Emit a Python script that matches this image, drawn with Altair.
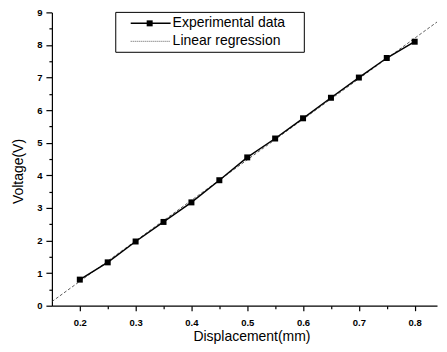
import altair as alt
import pandas as pd

displacement = [0.20, 0.25, 0.30, 0.35, 0.40, 0.45, 0.50, 0.55, 0.60, 0.65, 0.70, 0.75, 0.80]
voltage = [0.80, 1.33, 1.97, 2.57, 3.17, 3.85, 4.55, 5.13, 5.75, 6.38, 7.00, 7.60, 8.10]
x_ticks = [0.20, 0.25, 0.30, 0.35, 0.40, 0.45, 0.50, 0.55, 0.60, 0.65, 0.70, 0.75, 0.80]
y_ticks = [0, 0.5, 1, 1.5, 2, 2.5, 3, 3.5, 4, 4.5, 5, 5.5, 6, 6.5, 7, 7.5, 8, 8.5, 9]
legend_labels = ["Experimental data", "Linear regression"]

df = pd.DataFrame({"d": displacement, "v": voltage})
one = pd.DataFrame({"k": [0]})

FONT = "Liberation Sans"
major_x = "abs(datum.value*10 - round(datum.value*10)) < 0.001"
major_y = "abs(datum.value - round(datum.value)) < 0.001"

xaxis = alt.Axis(
    values=x_ticks,
    title="Displacement(mm)",
    labelExpr=f"{major_x} ? format(datum.value, '.1f') : ''",
    labelOverlap=False,
    tickSize={"condition": {"test": major_x, "value": 5}, "value": 3},
    labelPadding=7,
    labelFont=FONT, labelFontSize=9.5, labelFontWeight="bold",
    titleFont=FONT, titleFontSize=14, titleFontWeight="normal",
    titleX=200, titleY=35, titleBaseline="alphabetic",
    grid=False,
)
yaxis = alt.Axis(
    values=y_ticks,
    title="Voltage(V)",
    labelExpr=f"{major_y} ? format(datum.value, 'd') : ''",
    labelOverlap=False,
    tickSize={"condition": {"test": major_y, "value": 6}, "value": 3},
    labelPadding=4,
    labelFont=FONT, labelFontSize=9.5, labelFontWeight="bold",
    titleFont=FONT, titleFontSize=14, titleFontWeight="normal",
    titleX=-26, titleY=159, titleBaseline="bottom",
    grid=False,
)

base = alt.Chart(df).encode(
    x=alt.X("d:Q", scale=alt.Scale(domain=[0.15, 0.84], nice=False, zero=False), axis=xaxis),
    y=alt.Y("v:Q", scale=alt.Scale(domain=[0, 9], nice=False, zero=False), axis=yaxis),
)

reg = base.transform_regression("d", "v", extent=[0.15, 0.86]).mark_line(
    clip=True, color="#333333", strokeWidth=0.8, strokeDash=[3, 2]
)
line = base.mark_line(color="black", strokeWidth=1.5)
pts = base.mark_square(size=36, color="black", filled=True, opacity=1)

box = alt.Chart(one).mark_rect(fill="white", stroke="black", strokeWidth=1).encode(
    x=alt.value(64), x2=alt.value(253), y=alt.value(0), y2=alt.value(40)
)
leg_line1 = alt.Chart(one).mark_rule(color="black", strokeWidth=1.5).encode(
    x=alt.value(79), x2=alt.value(119), y=alt.value(11)
)
leg_sq = alt.Chart(one).mark_square(size=36, color="black", filled=True, opacity=1).encode(
    x=alt.value(98), y=alt.value(11)
)
leg_line2 = alt.Chart(one).mark_rule(color="#333333", strokeWidth=0.8, strokeDash=[1, 1]).encode(
    x=alt.value(79), x2=alt.value(119), y=alt.value(29)
)
leg_t1 = alt.Chart(one).mark_text(align="left", baseline="middle", font=FONT, fontSize=14, color="black").encode(
    x=alt.value(121), y=alt.value(11), text=alt.value(legend_labels[0])
)
leg_t2 = alt.Chart(one).mark_text(align="left", baseline="middle", font=FONT, fontSize=14, color="black").encode(
    x=alt.value(121), y=alt.value(29), text=alt.value(legend_labels[1])
)

chart = alt.layer(reg, line, pts, box, leg_line1, leg_sq, leg_line2, leg_t1, leg_t2).properties(
    width=386, height=294,
    autosize=alt.AutoSizeParams(type="none"),
    padding={"left": 44, "top": 4, "right": 2, "bottom": 38},
).configure_view(stroke=None).configure_axis(
    domainColor="black", tickColor="black", labelColor="black", titleColor="black", domainWidth=1.2, tickWidth=1.2
)

chart.save("out.html", embed_options={"renderer": "svg", "actions": False})
